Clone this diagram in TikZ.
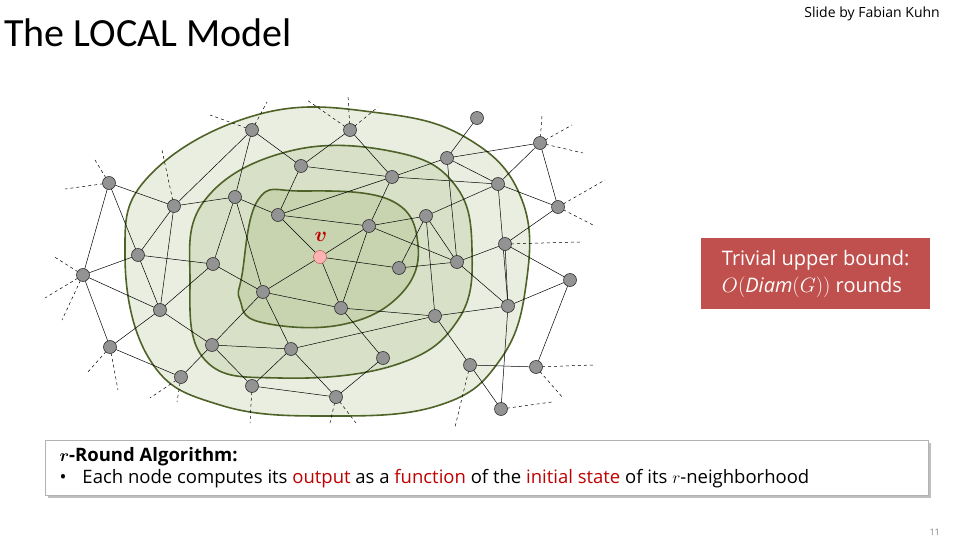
\documentclass[tikz,border=0pt]{standalone}
\usepackage{fontspec}
\setmainfont{Open Sans}
\newfontfamily\titlefont{Carlito}
\usepackage{amsmath}
\begin{document}
\begin{tikzpicture}[x=1pt,y=-1pt,
  vert/.style={circle,draw=black!80,fill=gray!85!white,minimum size=13pt,inner sep=0pt,line width=0.6pt},
  edge/.style={draw=black,line width=0.5pt},
  stub/.style={draw=black,dashed,line width=0.5pt},
  region/.style={draw=regb,line width=1.6pt}]
\definecolor{regb}{HTML}{4F6228}
\definecolor{r1}{HTML}{E9EEE0}
\definecolor{r2}{HTML}{D8E1C8}
\definecolor{r3}{HTML}{C8D3B0}
\definecolor{boxred}{HTML}{C0504D}
\definecolor{txred}{HTML}{C00000}
\useasboundingbox (0,0) rectangle (960,540);
% regions
\draw[region,fill=r1] plot[smooth cycle,tension=0.7] coordinates {(125,255) (150,175) (260,114) (380,113) (470,140) (522,200) (526,285) (500,360) (440,405) (330,416) (220,405) (150,360)};
\draw[region,fill=r2] plot[smooth cycle,tension=0.7] coordinates {(190,280) (205,200) (290,151) (395,152) (455,185) (472,250) (458,320) (395,365) (280,378) (205,360)};
\draw[region,fill=r3] plot[smooth cycle,tension=0.7] coordinates {(242,275) (258,200) (300,191) (390,200) (418,245) (400,295) (340,325) (260,322) (240,300)};
% nodes
\foreach \n/\x/\y in {A/252/130,B/109/183,C/174/206,D/235/197,E/278/215,F/83/275,G/138/255,H/213/264,I/263/292,J/160/310,K/110/347,L/212/345,M/291/349,N/181/377,O/252/386,P/336/397,Q/301/166,R/350/130,S/477/118,T/392/177,U/447/158,W/540/143,X/498/184,Y/558/207,Z/369/226,a/426/216,b/399/268,c/457/262,d/505/244,e/570/280,f/341/308,g/435/316,h/508/306,i/383/358,j/470/365,k/536/367,l/501/409}
  \coordinate (\n) at (\x,\y);
\coordinate (v) at (320,257);
% edges
\foreach \p/\q in {A/C,A/Q,A/D,B/C,B/F,B/G,C/D,C/G,C/J,D/E,D/H,D/I,Q/E,Q/T,Q/R,E/v,E/Z,E/T,G/F,G/H,G/J,F/J,F/K,H/I,H/J,K/J,K/N,L/M,L/O,L/I,L/N,L/J,I/v,I/M,I/f,M/g,M/O,M/P,O/P,v/f,v/Z,v/b,R/T,T/U,T/X,T/Z,U/S,U/W,U/X,U/c,W/X,W/Y,X/Y,X/a,X/h,Y/d,a/Z,a/b,a/c,a/g,Z/c,Z/f,b/c,c/d,c/h,d/h,d/e,h/e,h/g,h/l,e/k,g/f,g/j,j/k,j/l,f/i,i/P}
  \draw[edge] (\p) -- (\q);
% stubs
\foreach \n/\x/\y in {A/210/115,A/267/102,R/307/100,R/348/95,R/378/107,B/65/189,B/95/160,C/162/150,F/53/256,F/45/298,F/62/320,K/87/373,K/118/390,N/150/398,N/177/402,O/250/423,P/330/423,P/356/423,W/542/115,W/572/125,W/583/153,Y/605/180,Y/593/225,d/580/242,k/593/365,k/563/398,l/552/402,j/455/427}
  \draw[stub] (\n) -- (\x,\y);
\foreach \n in {A,B,C,D,E,F,G,H,I,J,K,L,M,N,O,P,Q,R,S,T,U,W,X,Y,Z,a,b,c,d,e,f,g,h,i,j,k,l}
  \node[vert] (n\n) at (\n) {};
\node[circle,draw=red!40!gray,fill=red!30!white,minimum size=13pt,inner sep=0pt] (nv) at (v) {};
\node[text=txred,font=\fontsize{22}{22}\selectfont] (vl) at (321,237) {$\boldsymbol{v}$};
% texts
\node[anchor=west,font=\titlefont\fontsize{40}{40}\selectfont,inner sep=0pt] (title) at (4,33) {The LOCAL Model};
\node[anchor=east,font=\fontsize{14}{14}\selectfont,inner sep=0pt] (slide) at (940,14) {Slide by Fabian Kuhn};
\node[anchor=east,font=\fontsize{9}{9}\selectfont,text=gray,inner sep=0pt] (num) at (940,532) {11};
% red box
\node[fill=boxred,anchor=north west,minimum width=229pt,minimum height=71pt,inner sep=0pt] (rb) at (701,238) {};
\node[text=white,align=left,font=\fontsize{20}{27}\selectfont] (rbt) at (rb.center) {Trivial upper bound:\\$O(\mathit{Diam}(G))$ rounds};
% bottom box
\fill[gray!50] (48,443) rectangle (931,498);
\node[draw=gray!60,fill=white,anchor=north west,minimum width=883pt,minimum height=55pt,inner sep=0pt] (bb) at (45,440) {};
\node[anchor=west,font=\fontsize{18.5}{22}\selectfont,align=left] (bbt) at (56,468) {$\boldsymbol{r}$\textbf{-Round Algorithm:}\\
\textbullet\hspace{16pt}Each node computes its \textcolor{txred}{output} as a \textcolor{txred}{function} of the \textcolor{txred}{initial state} of its $r$-neighborhood};
\end{tikzpicture}
\end{document}
